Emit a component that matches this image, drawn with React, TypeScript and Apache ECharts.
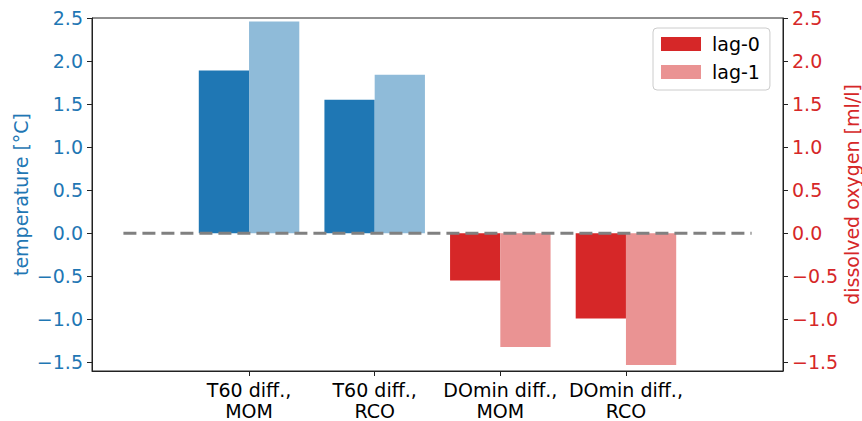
import React, { useEffect, useRef } from "react";
import * as echarts from "echarts";

const categories = ["T60 diff.,\nMOM", "T60 diff.,\nRCO", "DOmin diff.,\nMOM", "DOmin diff.,\nRCO"];
const lag0 = [1.89, 1.55, -0.55, -0.99];
const lag1 = [2.46, 1.84, -1.32, -1.53];
const yTicks = [-1.5, -1.0, -0.5, 0.0, 0.5, 1.0, 1.5, 2.0, 2.5];
const catPositions = [0, 1, 2, 3];
const zeroLine = [[-1, 0], [4, 0]];

const BLUE = "#1f77b4";
const BLUE_LIGHT = "#8fbbd9";
const RED = "#d62728";
const RED_LIGHT = "#ea9393";
// first two categories are temperature, last two dissolved oxygen
const darkColors = [BLUE, BLUE, RED, RED];
const lightColors = [BLUE_LIGHT, BLUE_LIGHT, RED_LIGHT, RED_LIGHT];

const FONT = "DejaVu Sans";
const FS = 19;
const BAR_W = 0.4;

const fmt = (v: number) => v.toFixed(1).replace("-", "\u2212");

function barRenderer(offset: number, colors: string[]) {
  return (params: any, api: any) => {
    const i = api.value(0);
    const v = api.value(1);
    const p0 = api.coord([i + offset, v]);
    const p1 = api.coord([i + offset + BAR_W, 0]);
    const x = Math.min(p0[0], p1[0]);
    const y = Math.min(p0[1], p1[1]);
    return {
      type: "rect",
      shape: { x, y, width: Math.abs(p1[0] - p0[0]), height: Math.abs(p1[1] - p0[1]) },
      style: { fill: colors[i] },
    };
  };
}

export default function App() {
  const ref = useRef<HTMLDivElement>(null);
  useEffect(() => {
    if (!ref.current) return;
    const chart = echarts.init(ref.current, null, { renderer: "svg" });
    const yAxisBase = (color: string, name: string) => ({
      type: "value",
      min: -1.6,
      max: 2.5,
      name,
      nameLocation: "middle",
      nameRotate: 90,
      nameMoveOverlap: false,
      nameTextStyle: { color, fontSize: FS, fontFamily: FONT, lineHeight: 19 },
      axisLine: { show: true, onZero: false, lineStyle: { color: "#222", width: 1 } },
      axisTick: { show: true, length: 5, customValues: yTicks, lineStyle: { color: "#222" } },
      axisLabel: {
        color,
        fontSize: FS,
        fontFamily: FONT,
        margin: 9,
        customValues: yTicks,
        formatter: (v: number) => fmt(v),
      },
      splitLine: { show: false },
    });
    chart.setOption({
      animation: false,
      grid: {
        left: 92,
        right: 79,
        top: 18,
        bottom: 50,
        outerBoundsMode: "none",
        containLabel: false,
        show: true,
        borderColor: "#222",
        borderWidth: 1,
        backgroundColor: "transparent",
      },
      legend: {
        left: 653,
        top: 28,
        orient: "vertical",
        data: [
          { name: "lag-0", icon: "rect", itemStyle: { color: RED } },
          { name: "lag-1", icon: "rect", itemStyle: { color: RED_LIGHT } },
        ],
        itemWidth: 40,
        itemHeight: 14,
        itemGap: 8,
        padding: [6, 10, 8, 8],
        backgroundColor: "rgba(255,255,255,0.8)",
        borderColor: "#cccccc",
        borderWidth: 1,
        borderRadius: 4,
        textStyle: { fontSize: FS, fontFamily: FONT, color: "#000", lineHeight: 20, padding: [0, 0, 0, 6] },
      },
      xAxis: {
        type: "value",
        min: -1.25,
        max: 4.25,
        axisLine: { show: true, onZero: false, lineStyle: { color: "#222", width: 1 } },
        axisTick: { show: true, length: 5, customValues: catPositions, lineStyle: { color: "#222" } },
        axisLabel: {
          color: "#000",
          fontSize: FS,
          fontFamily: FONT,
          lineHeight: 21,
          margin: 8,
          customValues: catPositions,
          formatter: (v: number) => categories[Math.round(v)] ?? "",
        },
        splitLine: { show: false },
      },
      yAxis: [
        { ...yAxisBase(BLUE, "temperature [°C]"), position: "left", nameGap: 62 },
        { ...yAxisBase(RED, "dissolved oxygen [ml/l]"), position: "right", nameGap: 59 },
      ],
      series: [
        {
          name: "lag-0",
          type: "custom",
          itemStyle: { color: RED },
          renderItem: barRenderer(-BAR_W, darkColors),
          data: lag0.map((v, i) => [i, v]),
          encode: { x: 0, y: 1 },
          z: 2,
        },
        {
          name: "lag-1",
          type: "custom",
          itemStyle: { color: RED_LIGHT },
          renderItem: barRenderer(0, lightColors),
          data: lag1.map((v, i) => [i, v]),
          encode: { x: 0, y: 1 },
          z: 2,
        },
        {
          type: "line",
          data: zeroLine,
          symbol: "none",
          silent: true,
          lineStyle: { color: "#808080", width: 3, type: [13, 6] },
          z: 5,
        },
      ],
    });
    return () => chart.dispose();
  }, []);
  return <div ref={ref} style={{ width: 862, height: 421, position: "absolute", left: 0, top: 0 }} />;
}
